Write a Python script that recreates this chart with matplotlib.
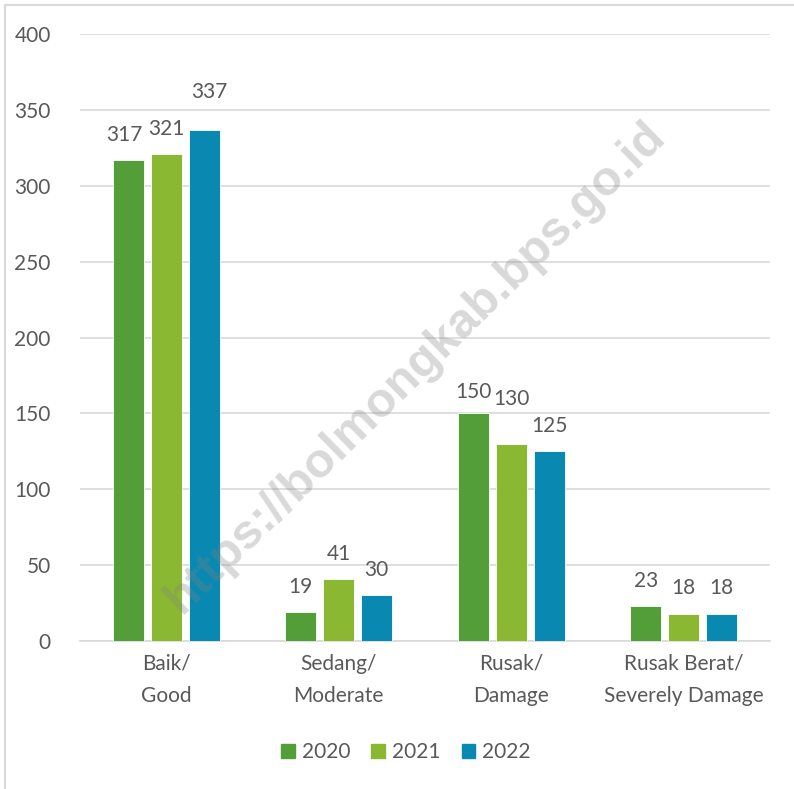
import matplotlib
matplotlib.use("Agg")
import matplotlib.pyplot as plt
import numpy as np
from matplotlib.lines import Line2D

categories = ["Baik/\nGood", "Sedang/\nModerate", "Rusak/\nDamage", "Rusak Berat/\nSeverely Damage"]
years = ["2020", "2021", "2022"]
v2020 = [317, 19, 150, 23]
v2021 = [321, 41, 130, 18]
v2022 = [337, 30, 125, 18]
colors = ["#549E39", "#8AB833", "#0989B1"]
yticks = [0, 50, 100, 150, 200, 250, 300, 350, 400]

# manual label nudges (pixels), as in the original chart
label_nudge = {(0, 0): (-4, 0), (2, 0): (5, 12), (0, 2): (0, -4), (1, 2): (0, 19)}

plt.rcParams['font.family'] = ['Lato', 'DejaVu Sans']
txt = "#595959"

fig = plt.figure(figsize=(7.94, 7.89), dpi=100)
W, H = 794, 789
ax = fig.add_axes([80 / W, 1 - 641 / H, 690 / W, 607 / H])

x = np.arange(len(categories))
bw = 0.18
step = 0.22
for i, (vals, c, yr) in enumerate(zip([v2020, v2021, v2022], colors, years)):
    xs = x + (i - 1) * step
    ax.bar(xs, vals, width=bw, color=c, edgecolor="white", linewidth=0.6, zorder=3, label=yr)
    for j, (xx, v) in enumerate(zip(xs, vals)):
        dx, dy = label_nudge.get((i, j), (0, 0))
        ax.annotate(str(v), (xx, v), xytext=(dx * 0.72, 11 + dy * 0.72), textcoords="offset points",
                    ha="center", va="bottom", fontsize=15, color=txt, zorder=4)

ax.set_xlim(-0.5, 3.5)
ax.set_ylim(0, 400)
ax.set_yticks(yticks)
ax.set_yticklabels([str(t) for t in yticks], fontsize=15, color=txt)
ax.set_xticks(x)
ax.set_xticklabels(categories, fontsize=15, color=txt, linespacing=1.75)
ax.tick_params(axis="both", length=0)
ax.tick_params(axis="y", pad=21)
ax.tick_params(axis="x", pad=9)
ax.grid(axis="y", color="#D9D9D9", linewidth=1.2, zorder=0)
for s in ["top", "right", "left"]:
    ax.spines[s].set_visible(False)
ax.spines["bottom"].set_color("#D9D9D9")
ax.spines["bottom"].set_linewidth(1.2)

handles = [plt.Rectangle((0, 0), 1, 1, color=c) for c in colors]
fig.legend(handles, years, loc="center", bbox_to_anchor=(406 / W, 1 - 752 / H), ncol=3,
           frameon=False, fontsize=15, handlelength=0.65, handleheight=0.65,
           columnspacing=1.0, handletextpad=0.35, labelcolor=txt)

fig.text(416 / W, 1 - 367 / H, "https://bolmongkab.bps.go.id", rotation=44.5,
         ha="center", va="center", fontsize=35, fontweight="bold",
         family=["Liberation Sans", "DejaVu Sans"], color="#808080", alpha=0.3, zorder=10)

fig.add_artist(Line2D([5 / W, 5 / W], [0, 1 - 5 / H], color="#D9D9D9", linewidth=1.5))
fig.add_artist(Line2D([5 / W, 1], [1 - 5 / H, 1 - 5 / H], color="#D9D9D9", linewidth=1.5))

fig.savefig("out.png", dpi=100, facecolor="white")
